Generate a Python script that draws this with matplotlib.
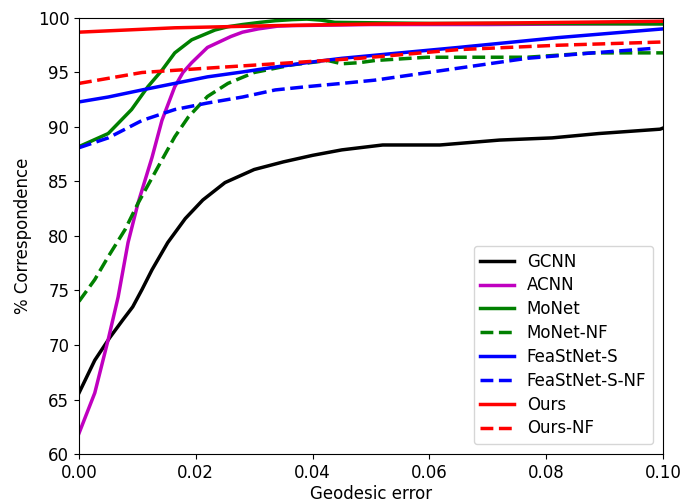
import matplotlib
matplotlib.use('Agg')
import matplotlib.pyplot as plt

# geodesic error (x) and % correspondence (y)
gcnn_x = [0.0, 0.0027, 0.0053, 0.0075, 0.0092, 0.0108, 0.0125, 0.0152, 0.0182, 0.0212,
          0.025, 0.03, 0.035, 0.04, 0.045, 0.0481, 0.052, 0.0618, 0.072, 0.081,
          0.089, 0.0995, 0.1]
gcnn_y = [65.6, 68.6, 70.7, 72.3, 73.5, 75.1, 76.9, 79.4, 81.6, 83.3,
          84.9, 86.1, 86.8, 87.4, 87.9, 88.1, 88.35, 88.35, 88.8, 89.0,
          89.4, 89.8, 89.9]

acnn_x = [0.0, 0.0027, 0.005, 0.0067, 0.0084, 0.0101, 0.0125, 0.0142, 0.0164, 0.0178,
          0.0193, 0.022, 0.026, 0.028, 0.0307, 0.034, 0.0365, 0.05, 0.07, 0.1]
acnn_y = [61.9, 65.6, 70.5, 74.4, 79.4, 83.0, 87.2, 90.6, 93.7, 95.0,
          95.9, 97.3, 98.3, 98.7, 99.0, 99.25, 99.3, 99.4, 99.4, 99.5]

monet_x = [0.0, 0.005, 0.009, 0.0118, 0.0142, 0.0164, 0.0193, 0.0233, 0.0255, 0.028,
           0.031, 0.0336, 0.0365, 0.039, 0.0415, 0.0438, 0.06, 0.08, 0.1]
monet_y = [88.2, 89.4, 91.6, 93.7, 95.2, 96.8, 98.0, 98.9, 99.2, 99.4,
           99.6, 99.75, 99.85, 99.9, 99.8, 99.6, 99.5, 99.5, 99.45]

monet_nf_x = [0.0, 0.0027, 0.005, 0.0079, 0.0101, 0.0135, 0.0164, 0.0187, 0.022, 0.0255,
              0.03, 0.0365, 0.0426, 0.045, 0.048, 0.0507, 0.0596, 0.0767, 0.088, 0.1]
monet_nf_y = [74.0, 76.0, 78.1, 80.6, 83.0, 86.3, 89.1, 90.9, 92.8, 94.0,
              95.0, 95.7, 96.1, 95.8, 95.9, 96.1, 96.4, 96.4, 96.8, 96.8]

feast_x = [0.0, 0.005, 0.0108, 0.0164, 0.022, 0.028, 0.0336, 0.039, 0.045, 0.065, 0.082, 0.1]
feast_y = [92.3, 92.75, 93.4, 94.0, 94.6, 95.05, 95.5, 95.9, 96.3, 97.3, 98.2, 99.0]

feast_nf_x = [0.0, 0.005, 0.0108, 0.0164, 0.022, 0.028, 0.0336, 0.039, 0.045, 0.0507,
              0.065, 0.0767, 0.088, 0.098]
feast_nf_y = [88.1, 89.0, 90.6, 91.6, 92.2, 92.75, 93.4, 93.7, 94.0, 94.3,
              95.4, 96.3, 96.8, 97.2]

ours_x = [0.0, 0.0164, 0.0336, 0.0507, 0.075, 0.1]
ours_y = [98.7, 99.1, 99.3, 99.45, 99.55, 99.7]

ours_nf_x = [0.0, 0.0108, 0.022, 0.0336, 0.045, 0.048, 0.065, 0.082, 0.1]
ours_nf_y = [94.0, 95.0, 95.4, 95.8, 96.2, 96.3, 97.1, 97.5, 97.8]

xticks = [0.0, 0.02, 0.04, 0.06, 0.08, 0.10]
yticks = [60, 65, 70, 75, 80, 85, 90, 95, 100]


def main():
    plt.rcParams['font.size'] = 12
    fig = plt.figure(figsize=(6.96, 5.04), dpi=100)
    ax = fig.add_axes([0.1135, 0.0992, 0.8391, 0.8651])

    lw = 2.5
    ax.plot(gcnn_x, gcnn_y, '-', color='black', lw=lw, label='GCNN')
    ax.plot(acnn_x, acnn_y, '-', color='#c000c0', lw=lw, label='ACNN')
    ax.plot(monet_x, monet_y, '-', color='green', lw=lw, label='MoNet')
    ax.plot(monet_nf_x, monet_nf_y, '--', color='green', lw=lw, label='MoNet-NF')
    ax.plot(feast_x, feast_y, '-', color='blue', lw=lw, label='FeaStNet-S')
    ax.plot(feast_nf_x, feast_nf_y, '--', color='blue', lw=lw, label='FeaStNet-S-NF')
    ax.plot(ours_x, ours_y, '-', color='red', lw=lw, label='Ours')
    ax.plot(ours_nf_x, ours_nf_y, '--', color='red', lw=lw, label='Ours-NF')

    ax.set_xlim(0, 0.1)
    ax.set_ylim(60, 100)
    ax.set_xticks(xticks)
    ax.set_xticklabels(['%.2f' % t for t in xticks])
    ax.set_yticks(yticks)
    ax.set_xlabel('Geodesic error', labelpad=2)
    ax.set_ylabel('% Correspondence')
    ax.legend(loc='lower right', fontsize=12, labelspacing=0.35, borderaxespad=0.6)

    fig.savefig('out.png', dpi=100)


if __name__ == '__main__':
    main()
